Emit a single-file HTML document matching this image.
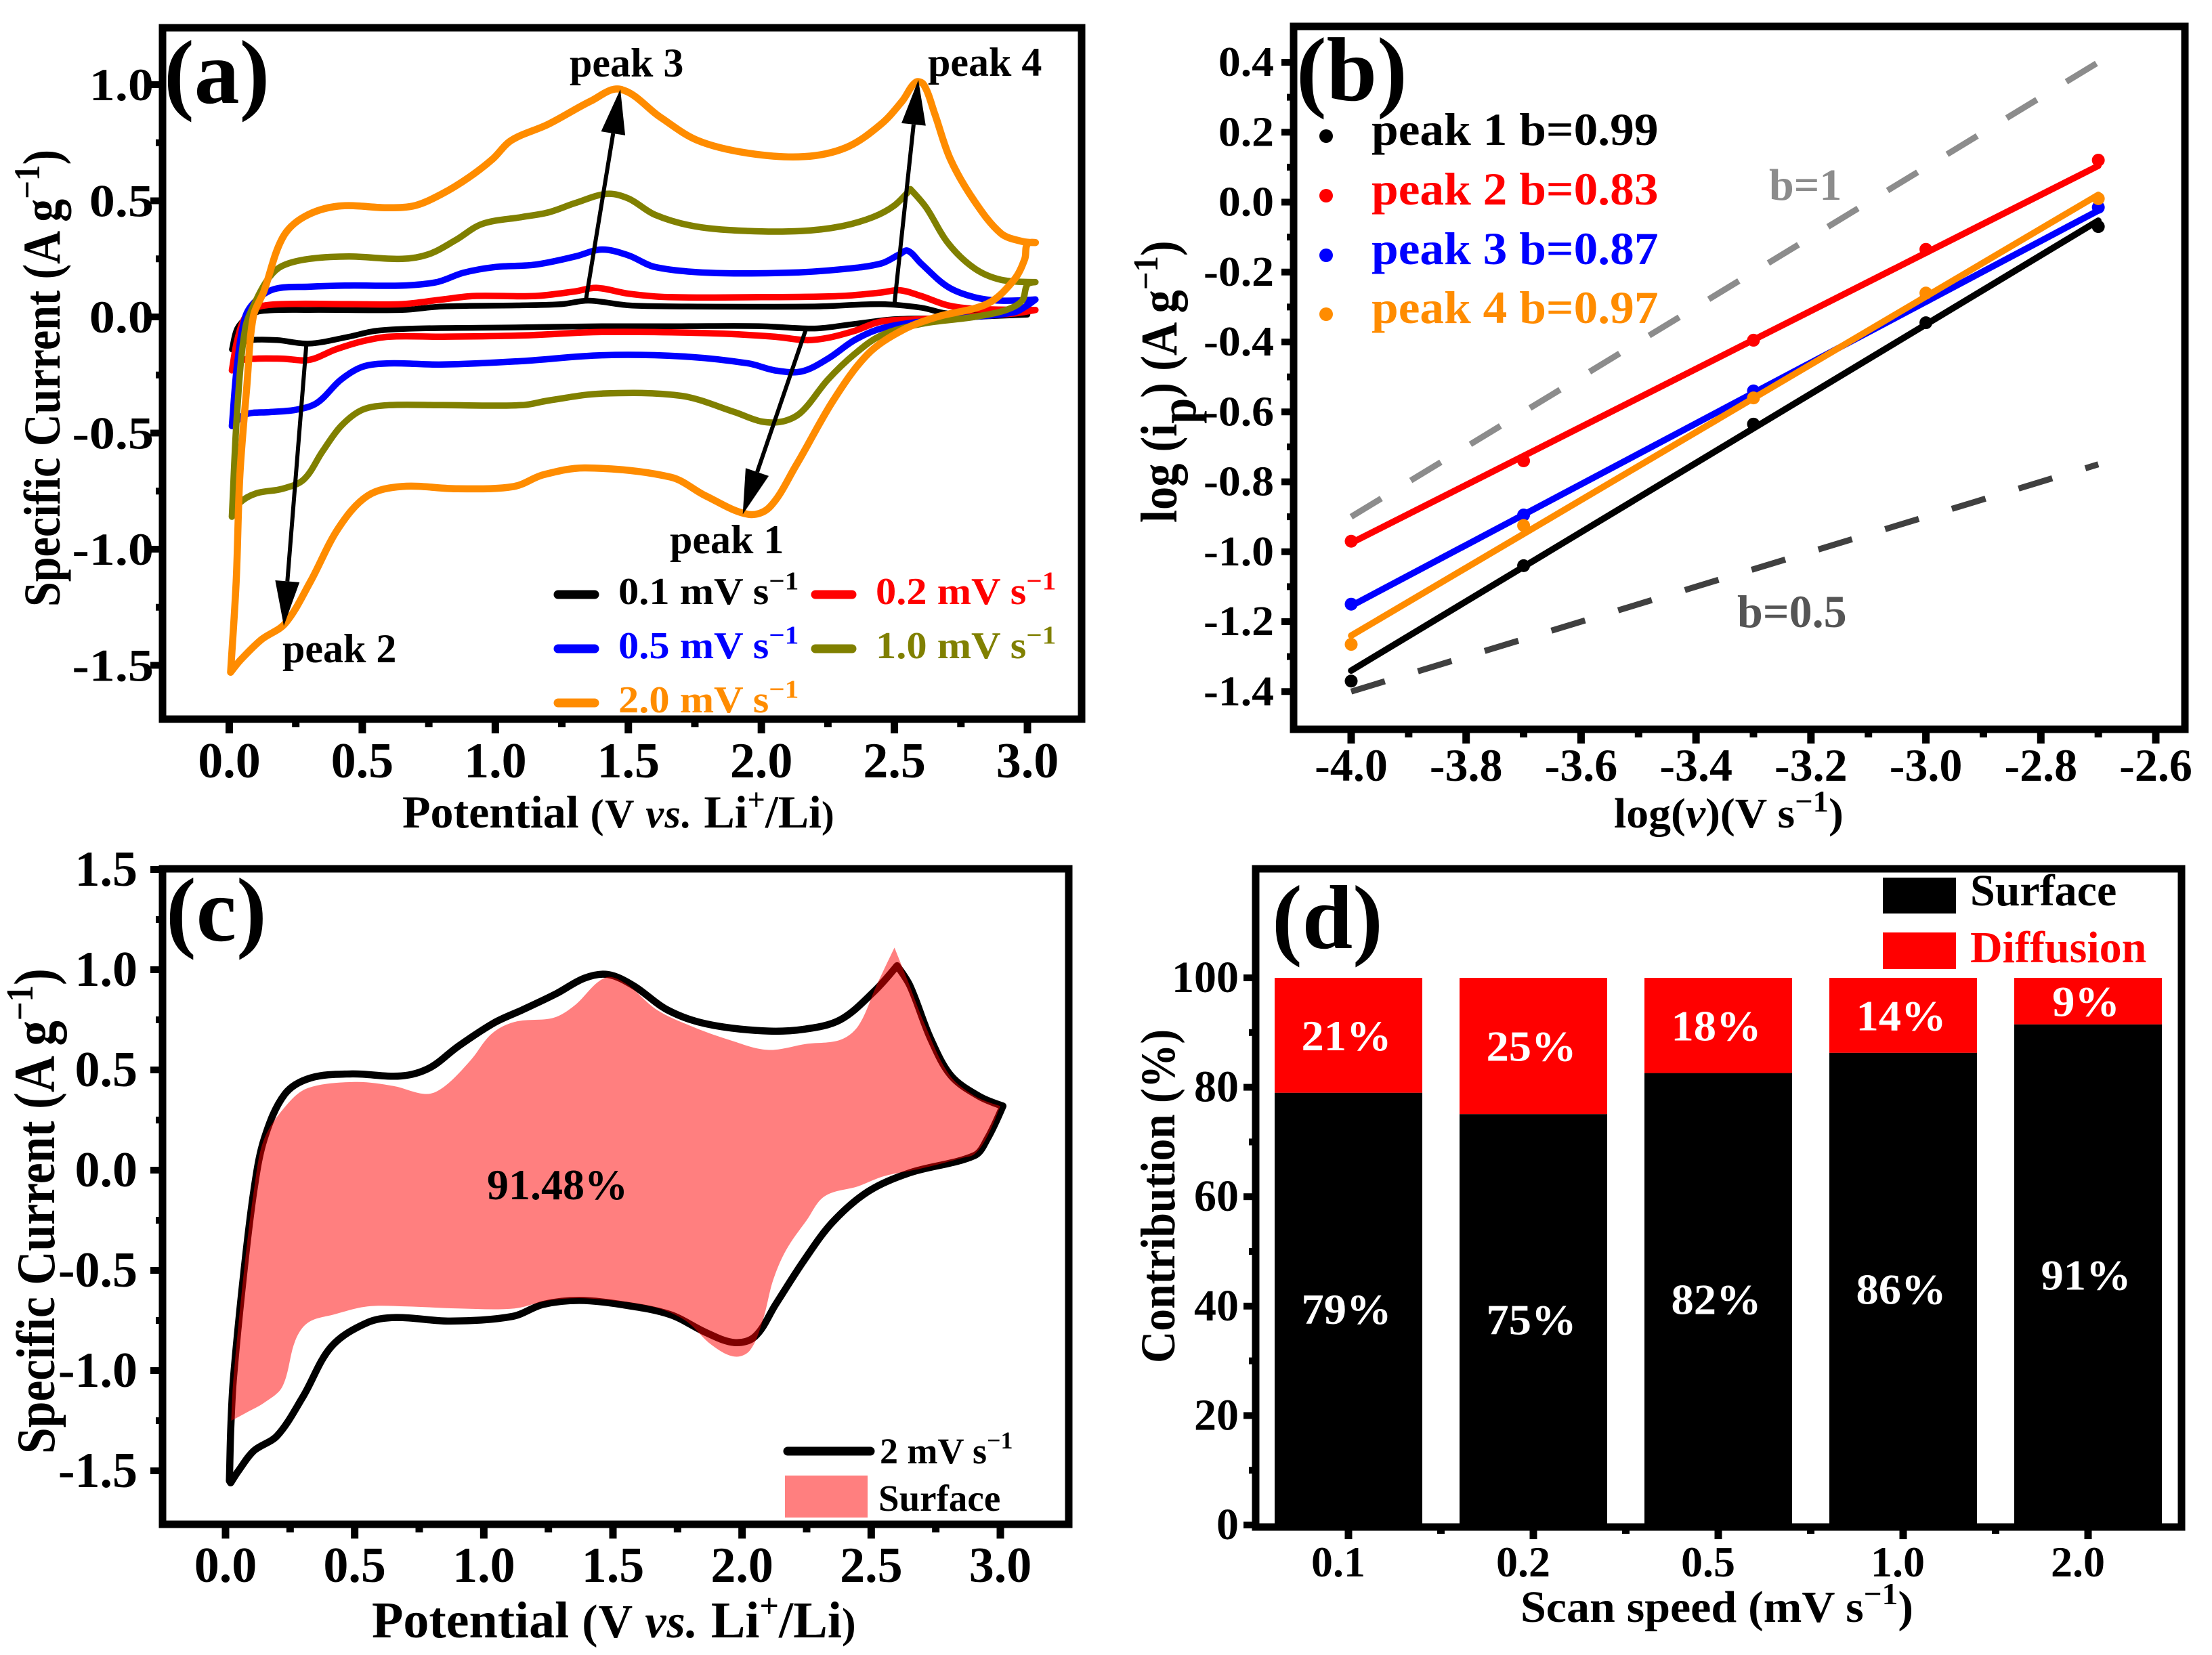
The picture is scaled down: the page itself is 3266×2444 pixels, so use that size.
<!DOCTYPE html>
<html lang="en">
<head>
<meta charset="utf-8">
<title>Cyclic voltammetry analysis figure</title>
<style>
html,body{margin:0;padding:0;background:#fff;}
svg{display:block;}
text{font-family:"Liberation Serif",serif;font-weight:bold;fill:#000;}
</style>
</head>
<body>
<svg id="figure" xmlns="http://www.w3.org/2000/svg" width="3266" height="2444" viewBox="0 0 3266 2444">
<rect width="3266" height="2444" fill="#fff"/>
<g id="panel-a"></g>
<g id="panel-b"></g>
<g id="panel-c"></g>
<g id="panel-d"></g>

<!-- static labels -->
<text font-size="134" x="242" y="152">(a)</text>
<text font-size="134" x="1914" y="148">(b)</text>
<text font-size="134" x="245" y="1389">(c)</text>
<text font-size="134" x="1878" y="1400">(d)</text>

<text font-size="68" transform="translate(594,1222)">Potential <tspan font-size="60" letter-spacing="1.5">(V <tspan font-style="italic">vs.</tspan> </tspan>Li<tspan font-size="46" dy="-26">+</tspan><tspan dy="26">/Li</tspan><tspan font-size="56">)</tspan></text>
<text font-size="76" transform="translate(88,896) rotate(-90) scale(.87,1)">Specific Current <tspan font-size="78">(A g</tspan><tspan font-size="54" dy="-30">−1</tspan><tspan font-size="78" dy="30">)</tspan></text>

<text font-size="62" transform="translate(2383,1222) scale(1.06,1)">log(<tspan font-style="italic">v</tspan>)(V s<tspan font-size="44" dy="-24">−1</tspan><tspan dy="24">)</tspan></text>
<text font-size="76" transform="translate(1737,772) rotate(-90) scale(.9,1)">log (i<tspan dy="28">p</tspan><tspan dy="-28">) (A g</tspan><tspan font-size="52" dy="-28">−1</tspan><tspan dy="28">)</tspan></text>
<text font-size="66" style="fill:#8c8c8c" x="2612" y="295">b=1</text>
<text font-size="68" style="fill:#555" x="2565" y="926">b=0.5</text>

<text font-size="76" transform="translate(549,2418)">Potential <tspan font-size="70" letter-spacing="1">(V <tspan font-style="italic">vs.</tspan> </tspan>Li<tspan font-size="50" dy="-30">+</tspan><tspan dy="30">/Li</tspan><tspan font-size="62">)</tspan></text>
<text font-size="80" transform="translate(80,2147) rotate(-90) scale(.87,1)">Specific Current <tspan font-size="86">(A g</tspan><tspan font-size="56" dy="-32">−1</tspan><tspan font-size="86" dy="32">)</tspan></text>
<text font-size="64" x="719" y="1771">91.48%</text>

<line x1="1163" x2="1285" y1="2143" y2="2143" stroke="#000" stroke-width="13" stroke-linecap="round"/>
<text font-size="54" x="1299" y="2161">2 mV s<tspan font-size="36" dy="-22">−1</tspan></text>
<rect x="1159" y="2179" width="122" height="62" fill="#ff0000" fill-opacity="0.5"/>
<text font-size="55" x="1297" y="2231">Surface</text>

<text font-size="66" transform="translate(2245,2395) scale(1.03,1)">Scan speed (mV s<tspan font-size="46" dy="-26">−1</tspan><tspan dy="26">)</tspan></text>
<text font-size="72" transform="translate(1734,2013) rotate(-90) scale(.91,1)">Contribution (%)</text>
<rect x="2780" y="1296" width="108" height="53" fill="#000"/>
<rect x="2780" y="1377" width="108" height="54" fill="#ff0000"/>
<text font-size="66" x="2909" y="1337">Surface</text>
<text font-size="66" style="fill:#f00" x="2909" y="1421">Diffusion</text>
</svg>

<script>
// ---------- Panel (a) data: potential (V) and specific current (A/g) ----------
const cv01V = [0.01,0.03,0.07,0.12,0.3,0.65,0.8,1.1,1.25,1.35,1.5,1.7,2.2,2.45,2.6,2.7,3.0,2.9,2.7,2.5,2.35,2.2,2.0,1.7,1.4,1.1,0.7,0.55,0.45,0.3,0.18,0.08,0.03,0.01];
const cv01I = [-0.14,-0.05,0,0.025,0.03,0.03,0.045,0.05,0.055,0.07,0.05,0.045,0.045,0.055,0.04,0.015,0.01,0.005,-0.005,-0.01,-0.03,-0.05,-0.04,-0.04,-0.04,-0.045,-0.05,-0.06,-0.085,-0.115,-0.10,-0.10,-0.12,-0.14];
const cv02V = [0.01,0.03,0.06,0.1,0.2,0.45,0.65,0.8,0.92,1.15,1.3,1.38,1.5,1.65,2.0,2.3,2.45,2.52,2.6,2.7,2.8,3.03,2.95,2.8,2.6,2.45,2.35,2.25,2.17,2.05,1.8,1.4,1.1,0.8,0.6,0.5,0.4,0.3,0.2,0.1,0.04,0.01];
const cv02I = [-0.23,-0.1,0,0.04,0.055,0.055,0.055,0.075,0.09,0.09,0.11,0.125,0.10,0.085,0.085,0.09,0.105,0.115,0.09,0.05,0.035,0.03,0.015,0.005,-0.01,-0.02,-0.06,-0.09,-0.10,-0.085,-0.07,-0.065,-0.08,-0.085,-0.085,-0.105,-0.14,-0.185,-0.18,-0.18,-0.19,-0.23];
const cv05V = [0.01,0.03,0.06,0.1,0.17,0.3,0.45,0.65,0.78,0.88,1.0,1.15,1.3,1.4,1.5,1.6,1.8,2.1,2.3,2.45,2.52,2.55,2.6,2.7,2.8,2.9,3.03,3.0,2.95,2.8,2.6,2.45,2.35,2.25,2.15,2.05,1.95,1.7,1.4,1.1,0.8,0.6,0.5,0.42,0.33,0.25,0.15,0.06,0.01];
const cv05I = [-0.47,-0.2,0,0.07,0.12,0.13,0.135,0.135,0.15,0.19,0.215,0.225,0.26,0.29,0.265,0.215,0.19,0.19,0.205,0.23,0.27,0.285,0.23,0.13,0.085,0.07,0.075,0.05,0.02,0,-0.02,-0.05,-0.10,-0.18,-0.235,-0.23,-0.20,-0.17,-0.165,-0.19,-0.205,-0.20,-0.215,-0.27,-0.37,-0.40,-0.41,-0.42,-0.47];
const cv10V = [0.01,0.03,0.06,0.1,0.15,0.2,0.3,0.45,0.65,0.75,0.85,0.95,1.1,1.2,1.3,1.42,1.5,1.6,1.75,1.95,2.15,2.3,2.42,2.5,2.56,2.62,2.7,2.8,2.9,3.03,3.0,2.98,2.92,2.8,2.6,2.45,2.35,2.25,2.15,2.08,2.0,1.9,1.7,1.4,1.2,1.1,0.8,0.6,0.5,0.42,0.35,0.28,0.2,0.1,0.04,0.01];
const cv10I = [-0.86,-0.4,-0.05,0.07,0.17,0.22,0.25,0.26,0.25,0.27,0.33,0.40,0.43,0.45,0.49,0.53,0.51,0.44,0.39,0.37,0.37,0.39,0.43,0.48,0.55,0.47,0.32,0.21,0.16,0.15,0.14,0.07,0.03,0,-0.03,-0.08,-0.16,-0.27,-0.41,-0.45,-0.45,-0.41,-0.34,-0.33,-0.36,-0.38,-0.38,-0.38,-0.40,-0.47,-0.58,-0.70,-0.74,-0.76,-0.80,-0.86];
const cv20V = [0.005,0.026,0.04,0.066,0.09,0.13,0.2,0.28,0.41,0.6,0.7,0.8,0.9,0.99,1.06,1.2,1.36,1.47,1.62,1.76,1.95,2.16,2.32,2.45,2.53,2.58,2.61,2.65,2.71,2.8,2.9,2.98,3.03,3.0,2.99,2.95,2.85,2.66,2.53,2.4,2.27,2.13,2.03,1.95,1.79,1.66,1.34,1.18,1.07,0.86,0.65,0.52,0.41,0.305,0.21,0.12,0.04,0.005];
const cv20I = [-1.53,-1.14,-0.68,-0.3,0,0.11,0.34,0.43,0.477,0.47,0.48,0.53,0.6,0.68,0.76,0.83,0.93,0.98,0.86,0.76,0.705,0.69,0.73,0.83,0.93,1.01,1.0,0.88,0.68,0.5,0.36,0.325,0.32,0.315,0.25,0.16,0.057,0,-0.057,-0.16,-0.36,-0.64,-0.82,-0.85,-0.77,-0.69,-0.65,-0.68,-0.73,-0.74,-0.73,-0.77,-0.91,-1.14,-1.32,-1.39,-1.48,-1.53];
const scanRates = ['0.1','0.2','0.5','1.0','2.0'];
const cvColors = ['#000000','#ff0000','#0000ff','#808000','#ff8c00'];
const aXTicks = [0,0.5,1,1.5,2,2.5,3];
const aYTicks = [1,0.5,0,-0.5,-1,-1.5];
const peakNames = ['peak 1','peak 2','peak 3','peak 4'];
const arrowStartV = [2.17,0.29,1.34,2.5];
const arrowStartI = [-0.045,-0.115,0.07,0.055];
const arrowEndV = [1.93,0.205,1.47,2.59];
const arrowEndI = [-0.85,-1.33,0.98,1.02];

// ---------- Panel (b) data ----------
const logScanRate = [-4.0,-3.7,-3.3,-3.0,-2.7];
const peak1LogI = [-1.37,-1.04,-0.635,-0.345,-0.07];
const peak2LogI = [-0.97,-0.74,-0.395,-0.135,0.12];
const peak3LogI = [-1.15,-0.895,-0.54,-0.275,-0.015];
const peak4LogI = [-1.265,-0.925,-0.56,-0.26,0.01];
const bValues = [0.99,0.83,0.87,0.97];
const fitStart = [-1.34,-0.975,-1.155,-1.24];
const peakColors = ['#000000','#ff0000','#0000ff','#ff8c00'];
const refLogX = [-4.0,-2.7];
const refB1 = [-0.9,0.4];
const refB05 = [-1.4,-0.75];
const bXTicks = [-4,-3.8,-3.6,-3.4,-3.2,-3,-2.8,-2.6];
const bYTicks = [0.4,0.2,0,-0.2,-0.4,-0.6,-0.8,-1,-1.2,-1.4];

// ---------- Panel (c) data ----------
const cCurveV = [0.015,0.02,0.03,0.07,0.11,0.15,0.23,0.33,0.49,0.68,0.79,0.9,1.04,1.15,1.28,1.39,1.48,1.58,1.71,1.86,2.08,2.24,2.38,2.51,2.6,2.65,2.73,2.81,2.92,3.01,2.95,2.9,2.65,2.49,2.35,2.24,2.13,2.05,1.97,1.86,1.72,1.53,1.37,1.23,1.11,0.87,0.66,0.55,0.41,0.3,0.2,0.11,0.05,0.02];
const cCurveI = [-1.55,-1.3,-1.05,-0.52,-0.1,0.157,0.38,0.46,0.48,0.47,0.51,0.617,0.735,0.8,0.88,0.958,0.976,0.92,0.8,0.73,0.695,0.703,0.75,0.89,1.02,0.92,0.656,0.47,0.367,0.32,0.157,0.073,-0.013,-0.105,-0.26,-0.45,-0.67,-0.83,-0.86,-0.81,-0.72,-0.67,-0.65,-0.67,-0.73,-0.753,-0.735,-0.76,-0.88,-1.13,-1.325,-1.4,-1.5,-1.56];
const surfaceV = [0.022,0.03,0.07,0.11,0.15,0.24,0.32,0.5,0.65,0.78,0.85,0.95,1.03,1.12,1.27,1.35,1.47,1.55,1.67,1.8,1.95,2.1,2.25,2.38,2.45,2.52,2.59,2.64,2.7,2.8,2.9,3.0,2.95,2.9,2.85,2.7,2.55,2.45,2.32,2.25,2.17,2.12,2.08,2.03,1.97,1.88,1.78,1.65,1.4,1.25,1.12,0.9,0.7,0.55,0.42,0.32,0.27,0.22,0.15,0.08,0.022];
const surfaceI = [-1.25,-1.05,-0.52,-0.1,0.157,0.33,0.41,0.44,0.42,0.38,0.42,0.55,0.68,0.74,0.76,0.82,0.96,0.93,0.8,0.72,0.65,0.6,0.63,0.65,0.72,0.92,1.11,0.95,0.75,0.48,0.37,0.32,0.17,0.08,0.06,0.01,-0.03,-0.08,-0.13,-0.25,-0.4,-0.55,-0.75,-0.9,-0.93,-0.87,-0.75,-0.68,-0.64,-0.65,-0.69,-0.69,-0.68,-0.68,-0.72,-0.76,-0.85,-1.08,-1.16,-1.21,-1.25];
const cXTicks = [0,0.5,1,1.5,2,2.5,3];
const cYTicks = [1.5,1,0.5,0,-0.5,-1,-1.5];

// ---------- Panel (d) data ----------
const speedLabels = ['0.1','0.2','0.5','1.0','2.0'];
const surfaceShare = [79,75.1,82.6,86.3,91.5];
const diffusionShare = [21,24.9,17.4,13.7,8.5];
const surfaceLabels = ['79%','75%','82%','86%','91%'];
const diffusionLabels = ['21%','25%','18%','14%','9%'];
const dYTicks = [0,20,40,60,80,100];

const SVGNS = 'http://www.w3.org/2000/svg';
function make(tag, parent, name, attrs, content) {
  const el = document.createElementNS(SVGNS, tag);
  for (const k in attrs) el.setAttribute(k, attrs[k]);
  
  
  if (content !== undefined) el.textContent = content;
  parent.appendChild(el);
  return el;
}
function scale(d0, r0, d1, r1) { return v => r0 + (v - d0) * (r1 - r0) / (d1 - d0); }
function tangent(p0, p1, p2) {
  const ax = p1[0] - p0[0], ay = p1[1] - p0[1], bx = p2[0] - p1[0], by = p2[1] - p1[1];
  if (ax * bx + ay * by < 0) return [0, 0];
  const tx = p2[0] - p0[0], ty = p2[1] - p0[1], l = Math.hypot(tx, ty) || 1;
  return [tx / l, ty / l];
}
function smoothPath(xs, ys, fx, fy, close) {
  const pts = xs.map((x, i) => [fx(x), fy(ys[i])]);
  let d = 'M' + pts[0][0].toFixed(1) + ' ' + pts[0][1].toFixed(1);
  for (let i = 0; i < pts.length - 1; i++) {
    const p0 = pts[Math.max(i - 1, 0)], p1 = pts[i], p2 = pts[i + 1], p3 = pts[Math.min(i + 2, pts.length - 1)];
    const seg = Math.hypot(p2[0] - p1[0], p2[1] - p1[1]) / 3;
    const t1 = tangent(p0, p1, p2), t2 = tangent(p1, p2, p3);
    const c1x = p1[0] + t1[0] * seg, c1y = p1[1] + t1[1] * seg;
    const c2x = p2[0] - t2[0] * seg, c2y = p2[1] - t2[1] * seg;
    d += 'C' + c1x.toFixed(1) + ' ' + c1y.toFixed(1) + ' ' + c2x.toFixed(1) + ' ' + c2y.toFixed(1) + ' ' + p2[0].toFixed(1) + ' ' + p2[1].toFixed(1);
  }
  return close ? d + 'Z' : d;
}
function frame(parent, box) {
  make('rect', parent, 'plot-frame', {x: box.l, y: box.t, width: box.r - box.l, height: box.b - box.t, fill: 'none', stroke: '#000', 'stroke-width': 11});
}
function xTicksDraw(parent, ticks, fx, box, fmt, opts) {
  ticks.forEach(t => {
    const x = fx(t);
    make('rect', parent, 'x-tick-' + fmt(t), {x: x - 5.5, y: box.b, width: 11, height: opts.major, fill: '#000'});
    make('text', parent, 'x-tick-label-' + fmt(t), {'font-size': opts.size, 'text-anchor': 'middle', transform: 'translate(' + (x + (opts.shift || 0)) + ',' + opts.base + ') scale(' + (opts.sx || 1) + ',1)'}, fmt(t));
  });
}
function yTicksDraw(parent, ticks, fy, box, fmt, opts) {
  ticks.forEach(t => {
    const y = fy(t);
    make('rect', parent, 'y-tick-' + fmt(t), {x: box.l - opts.major, y: y - 5, width: opts.major, height: 10, fill: '#000'});
    make('text', parent, 'y-tick-label-' + fmt(t), {'font-size': opts.size, 'text-anchor': 'end', transform: 'translate(' + opts.right + ',' + (y + opts.off) + ') scale(' + (opts.sx || 1) + ',1)'}, fmt(t));
  });
}
function minorX(parent, ticks, fx, box, len) {
  for (let i = 0; i < ticks.length - 1; i++) {
    make('rect', parent, 'x-minor-tick', {x: fx((ticks[i] + ticks[i + 1]) / 2) - 5.5, y: box.b, width: 11, height: len, fill: '#000'});
  }
}
function minorY(parent, ticks, fy, box, len) {
  for (let i = 0; i < ticks.length - 1; i++) {
    make('rect', parent, 'y-minor-tick', {x: box.l - len, y: fy((ticks[i] + ticks[i + 1]) / 2) - 5, width: len, height: 10, fill: '#000'});
  }
}
function withSup(parent, name, x, y, size, sx, color, main) {
  const t = make('text', parent, name, {'font-size': size, transform: 'translate(' + x + ',' + y + ') scale(' + sx + ',1)', style: 'fill:' + color}, main);
  const sup = make('tspan', t, 'superscript', {'font-size': size * 0.68, dy: -size * 0.38}, '−1');
  return sup;
}

// ---------- Panel (a) ----------
(function () {
  const g = document.getElementById('panel-a');
  const box = {l: 240, r: 1597, t: 41, b: 1062};
  const fx = scale(0, 338.5, 3, 1517);
  const fy = scale(0, 468, 1, 125);
  const curves = [[cv01V, cv01I], [cv02V, cv02I], [cv05V, cv05I], [cv10V, cv10I], [cv20V, cv20I]];
  curves.forEach((c, i) => {
    make('path', g, 'cv-curve-' + scanRates[i], {d: smoothPath(c[0], c[1], fx, fy), fill: 'none', stroke: cvColors[i], 'stroke-width': i === 0 ? 8.5 : (i === 4 ? 10.5 : 9.5), 'stroke-linejoin': 'round', 'stroke-linecap': 'round'});
  });
  arrowStartV.forEach((sv, i) => {
    const x1 = fx(sv), y1 = fy(arrowStartI[i]), x2 = fx(arrowEndV[i]), y2 = fy(arrowEndI[i]);
    const len = Math.hypot(x2 - x1, y2 - y1), ux = (x2 - x1) / len, uy = (y2 - y1) / len;
    const bx = x2 - ux * 66, by = y2 - uy * 66;
    make('line', g, 'arrow-shaft-' + peakNames[i].replace(' ', '-'), {x1: x1, y1: y1, x2: bx, y2: by, stroke: '#000', 'stroke-width': 6});
    make('polygon', g, 'arrow-head-' + peakNames[i].replace(' ', '-'), {points: x2 + ',' + y2 + ' ' + (bx - uy * 18) + ',' + (by + ux * 18) + ' ' + (bx + uy * 18) + ',' + (by - ux * 18), fill: '#000'});
  });
  frame(g, box);
  const fmt = v => v.toFixed(1);
  xTicksDraw(g, aXTicks, fx, box, fmt, {major: 21, size: 74, base: 1148});
  minorX(g, aXTicks, fx, box, 12);
  yTicksDraw(g, aYTicks, fy, box, fmt, {major: 18, size: 68, sx: 1.12, right: 227, off: 23});
  minorY(g, aYTicks, fy, box, 10);
  make('text', g, 'peak-1-label', {'font-size': 60, x: 989, y: 817}, 'peak 1');
  make('text', g, 'peak-2-label', {'font-size': 60, x: 417, y: 978}, 'peak 2');
  make('text', g, 'peak-3-label', {'font-size': 60, x: 841, y: 113}, 'peak 3');
  make('text', g, 'peak-4-label', {'font-size': 60, x: 1370, y: 112}, 'peak 4');
  const legendX = [818, 1198, 818, 1198, 818];
  const legendY = [878, 878, 958, 958, 1038];
  scanRates.forEach((r, i) => {
    make('line', g, 'legend-line-' + r, {x1: legendX[i] + 6, x2: legendX[i] + 60, y1: legendY[i], y2: legendY[i], stroke: cvColors[i], 'stroke-width': 13, 'stroke-linecap': 'round'});
    withSup(g, 'legend-text-' + r, legendX[i] + 95, legendY[i] + 14, 56, 1.08, cvColors[i], r + ' mV s');
  });
})();

// ---------- Panel (b) ----------
(function () {
  const g = document.getElementById('panel-b');
  const box = {l: 1910, r: 3226, t: 39, b: 1077};
  const fx = scale(-4, 1995, -2.6, 3183);
  const fy = scale(0, 298.5, 0.4, 92);
  make('line', g, 'reference-line-b-1', {x1: fx(refLogX[0]), y1: fy(refB1[0]), x2: fx(refLogX[1]), y2: fy(refB1[1]), stroke: '#8c8c8c', 'stroke-width': 9, 'stroke-dasharray': '52 51'});
  make('line', g, 'reference-line-b-0.5', {x1: fx(refLogX[0]), y1: fy(refB05[0]), x2: fx(refLogX[1]), y2: fy(refB05[1]), stroke: '#404040', 'stroke-width': 9, 'stroke-dasharray': '52 51'});
  const series = [peak1LogI, peak2LogI, peak3LogI, peak4LogI];
  series.forEach((vals, i) => {
    const x0 = logScanRate[0], x1 = logScanRate[logScanRate.length - 1];
    vals.forEach((v, j) => {
      make('circle', g, 'point-peak-' + (i + 1) + '-' + j, {cx: fx(logScanRate[j]), cy: fy(v), r: 9.5, fill: peakColors[i]});
    });
    make('line', g, 'fit-line-peak-' + (i + 1), {x1: fx(x0), y1: fy(fitStart[i]), x2: fx(x1), y2: fy(fitStart[i] + bValues[i] * (x1 - x0)), stroke: peakColors[i], 'stroke-width': 9.5, 'stroke-linecap': 'round'});
    const ly = [214, 302, 390, 477][i];
    make('circle', g, 'legend-marker-peak-' + (i + 1), {cx: 1958, cy: ly - 13, r: 10, fill: peakColors[i]});
    make('text', g, 'legend-text-peak-' + (i + 1), {'font-size': 68, transform: 'translate(2025,' + ly + ') scale(1.05,1)', style: 'fill:' + peakColors[i]}, peakNames[i] + ' b=' + bValues[i].toFixed(2));
  });
  frame(g, box);
  const fmt = v => v.toFixed(1);
  xTicksDraw(g, bXTicks, fx, box, fmt, {major: 21, size: 68, base: 1153});
  minorX(g, bXTicks, fx, box, 12);
  yTicksDraw(g, bYTicks, fy, box, fmt, {major: 18, size: 62, sx: 1.06, right: 1881, off: 20});
  minorY(g, bYTicks, fy, box, 10);
})();

// ---------- Panel (c) ----------
(function () {
  const g = document.getElementById('panel-c');
  const box = {l: 240, r: 1578, t: 1283, b: 2251};
  const fx = scale(0, 333, 3, 1477);
  const fy = scale(0, 1728, 1.5, 1284);
  make('path', g, 'cv-curve-2mv', {d: smoothPath(cCurveV, cCurveI, fx, fy, true), fill: 'none', stroke: '#000', 'stroke-width': 10.5, 'stroke-linejoin': 'round'});
  make('path', g, 'surface-area', {d: smoothPath(surfaceV, surfaceI, fx, fy, true), fill: '#ff0000', 'fill-opacity': 0.5});
  frame(g, box);
  const fmt = v => v.toFixed(1);
  xTicksDraw(g, cXTicks, fx, box, fmt, {major: 21, size: 74, base: 2336});
  minorX(g, cXTicks, fx, box, 12);
  yTicksDraw(g, cYTicks, fy, box, fmt, {major: 18, size: 74, right: 203, off: 24});
  minorY(g, cYTicks, fy, box, 10);
})();

// ---------- Panel (d) ----------
(function () {
  const g = document.getElementById('panel-d');
  const box = {l: 1854, r: 3221, t: 1283, b: 2255};
  const fy = scale(0, 2252, 100, 1444);
  const centre = i => 1991 + 273 * i;
  const barW = 218;
  const labelNudge = [-15, -15, -15, -8, -15];
  speedLabels.forEach((s, i) => {
    const x = centre(i) - barW / 2;
    const s0 = surfaceShare[i], d0 = diffusionShare[i];
    make('rect', g, 'bar-surface-' + s, {x: x, y: fy(s0), width: barW, height: fy(0) - fy(s0), fill: '#000'});
    make('rect', g, 'bar-diffusion-' + s, {x: x, y: fy(s0 + d0), width: barW, height: fy(s0) - fy(s0 + d0), fill: '#ff0000'});
    make('text', g, 'bar-label-surface-' + s, {'font-size': 64, 'text-anchor': 'middle', transform: 'translate(' + (centre(i) - 3) + ',' + (fy(s0 / 2) + 22) + ') scale(1.04,1)', style: 'fill:#fff'}, surfaceLabels[i]);
    make('text', g, 'bar-label-diffusion-' + s, {'font-size': 64, 'text-anchor': 'middle', transform: 'translate(' + (centre(i) - 3) + ',' + (fy(s0 + d0 / 2) + 22) + ') scale(1.04,1)', style: 'fill:#fff'}, diffusionLabels[i]);
    make('rect', g, 'x-tick-' + s, {x: centre(i) - 5.5, y: box.b, width: 11, height: 18, fill: '#000'});
    if (i < speedLabels.length - 1) make('rect', g, 'x-minor-tick', {x: centre(i) + 131, y: box.b, width: 11, height: 10, fill: '#000'});
    make('text', g, 'x-tick-label-' + s, {'font-size': 64, 'text-anchor': 'middle', transform: 'translate(' + (centre(i) + labelNudge[i]) + ',2328)'}, s);
  });
  frame(g, box);
  yTicksDraw(g, dYTicks, fy, box, v => String(v), {major: 18, size: 66, right: 1829, off: 21});
  minorY(g, dYTicks, fy, box, 10);
})();
</script>
</body>
</html>
